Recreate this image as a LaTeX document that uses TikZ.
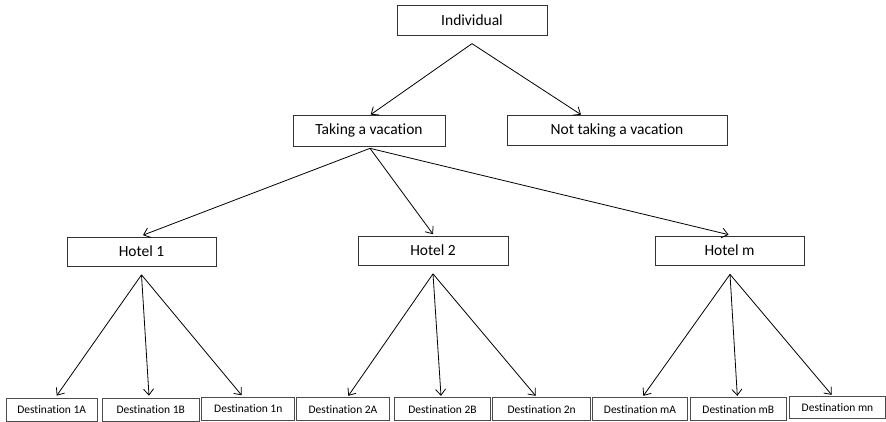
\documentclass[tikz,border=0pt]{standalone}
\usepackage{fontspec}
\setmainfont{Carlito}[Ligatures={NoCommon,NoRare,NoContextual}]
\usetikzlibrary{arrows.meta}
\begin{document}
\begin{tikzpicture}[x=1pt,y=-1pt,
  box/.style={draw=black!80,line width=0.7pt,inner sep=0pt,font=\fontsize{15.5}{18}\selectfont,minimum height=30pt},
  dbox/.style={draw=black!70,line width=0.7pt,inner sep=0pt,font=\fontsize{11.5}{13}\selectfont,minimum height=23pt},
  conn/.style={draw=black,line width=0.8pt,-{Straight Barb[length=6pt,width=10pt,line width=0.8pt]}}]
\useasboundingbox (0,0) rectangle (886,422);
% upper levels
\node[box,minimum width=150pt] (ind) at (472,20) {Individual};
\node[box,minimum width=152pt,minimum height=31pt] (tak) at (369,130.5) {Taking a vacation};
\node[box,minimum width=220pt] (not) at (617,130) {Not taking a vacation};
\node[box,minimum width=149pt,minimum height=29pt] (h1) at (141.5,251.5) {Hotel 1};
\node[box,minimum width=150pt,minimum height=29pt] (h2) at (433,250.5) {Hotel 2};
\node[box,minimum width=149pt,minimum height=29pt] (hm) at (729.5,250.5) {Hotel m};
% destinations
\node[dbox,minimum width=91pt] (d1A) at (51.7,409.5) {Destination 1A};
\node[dbox,minimum width=97pt] (d1B) at (150.7,409.5) {Destination 1B};
\node[dbox,minimum width=93pt,minimum height=23.5pt] (d1n) at (248.3,408.9) {Destination 1n};
\node[dbox,minimum width=92.5pt] (d2A) at (343,409.2) {Destination 2A};
\node[dbox,minimum width=96pt] (d2B) at (442.5,409.2) {Destination 2B};
\node[dbox,minimum width=98pt] (d2n) at (541.7,409.2) {Destination 2n};
\node[dbox,minimum width=94.5pt] (dmA) at (640,409.2) {Destination mA};
\node[dbox,minimum width=96.5pt] (dmB) at (738.3,409.2) {Destination mB};
\node[dbox,minimum width=95.5pt,minimum height=21.6pt] (dmn) at (837.5,407.5) {Destination mn};
% connectors
\draw[conn] ([yshift=-8.3pt]ind.south) -- ([xshift=1.7pt]tak.north);
\draw[conn] ([yshift=-8.3pt]ind.south) -- ([xshift=-36pt]not.north);
\draw[conn] ([xshift=1pt,yshift=-2pt]tak.south) -- ([xshift=1.5pt,yshift=1.5pt]h1.north);
\draw[conn] ([xshift=1pt,yshift=-2pt]tak.south) -- ([yshift=1.5pt]h2.north);
\draw[conn] ([xshift=1pt,yshift=-2pt]tak.south) -- ([xshift=-1pt,yshift=1pt]hm.north);
\draw[conn] ([yshift=-8.5pt]h1.south) -- ([xshift=5pt,yshift=2pt]d1A.north);
\draw[conn] ([yshift=-8.5pt]h1.south) -- ([xshift=-1.7pt,yshift=2pt]d1B.north);
\draw[conn] ([yshift=-8.5pt]h1.south) -- ([xshift=-6.6pt,yshift=1.5pt]d1n.north);
\draw[conn] ([yshift=-8.5pt]h2.south) -- ([xshift=5.3pt,yshift=1.5pt]d2A.north);
\draw[conn] ([yshift=-8.5pt]h2.south) -- ([xshift=-1.5pt,yshift=1.5pt]d2B.north);
\draw[conn] ([yshift=-8.5pt]h2.south) -- ([xshift=-6pt,yshift=1.5pt]d2n.north);
\draw[conn] ([xshift=0.5pt,yshift=-9pt]hm.south) -- ([xshift=3.3pt,yshift=1.5pt]dmA.north);
\draw[conn] ([xshift=0.5pt,yshift=-9pt]hm.south) -- ([xshift=-1pt,yshift=1.5pt]dmB.north);
\draw[conn] ([xshift=0.5pt,yshift=-9pt]hm.south) -- ([xshift=-5.8pt,yshift=1.5pt]dmn.north);
\end{tikzpicture}
\end{document}
